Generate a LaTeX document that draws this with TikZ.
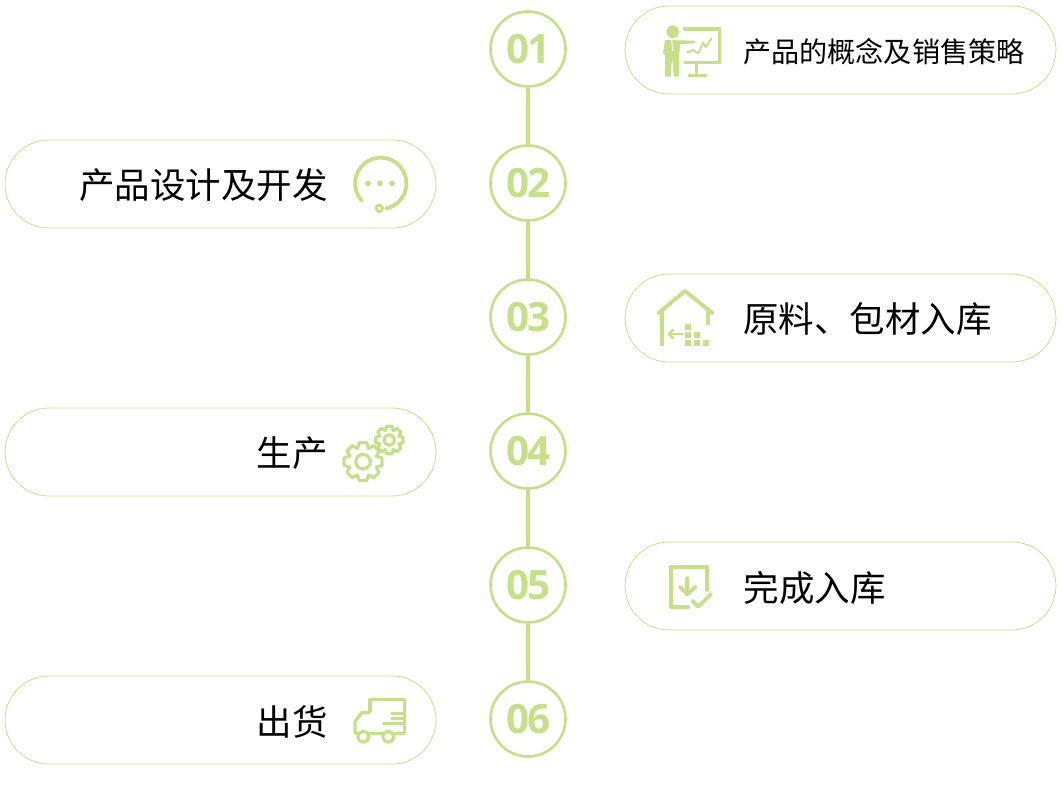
\documentclass[tikz,border=0pt]{standalone}
\usepackage{fontspec}
\setmainfont{Noto Sans CJK SC}
\newfontfamily\numfont[LetterSpace=-3]{Open Sans}
\definecolor{leaf}{HTML}{C5E088}
\tikzset{
	stepdot/.style={circle, draw=leaf, line width=1.5pt, fill=white, inner sep=0pt, minimum size=1.5cm, text=leaf, font=\numfont\fontsize{23}{23}\selectfont\bfseries},
	pill/.style={rectangle, draw=leaf, line width=0.45pt, rounded corners=0.88cm, inner sep=0pt, minimum width=8.62cm, minimum height=1.76cm},
	label/.style={inner sep=0pt, text=black, font=\fontsize{20.2}{24}\selectfont},
	iconline/.style={draw=leaf, line width=2.2pt, line cap=round, line join=round},
	iconfill/.style={fill=leaf, draw=none},
}
\newcommand{\gearicon}[4]{%
	\draw[iconline, line width=1.8pt] ([shift={(#1,#2)}]-22:#4)
		\foreach \a in {0,45,...,315} { -- ([shift={(#1,#2)}]\a-22:#4) -- ([shift={(#1,#2)}]\a-11:#3) -- ([shift={(#1,#2)}]\a+11:#3) -- ([shift={(#1,#2)}]\a+22:#4) } -- cycle;
}
\begin{document}
\begin{tikzpicture}[x=0.02cm, y=-0.02cm]
	\useasboundingbox (0,0) rectangle (1063,790);

	% Boxes
	\node[pill] (p01) at (840.5,50) {};
	\node[pill] (p02) at (220.5,184) {};
	\node[pill] (p03) at (840.5,318) {};
	\node[pill] (p04) at (220.5,452) {};
	\node[pill] (p05) at (840.5,586) {};
	\node[pill] (p06) at (220.5,720) {};

	% Numbered circles
	\node[stepdot] (c01) at (528,49) {\hspace{0.6pt}\raisebox{-0.5pt}{01}};
	\node[stepdot] (c02) at (528,183) {\hspace{0.6pt}\raisebox{-0.5pt}{02}};
	\node[stepdot] (c03) at (528,317) {\hspace{0.6pt}\raisebox{-0.5pt}{03}};
	\node[stepdot] (c04) at (528,451) {\hspace{0.6pt}\raisebox{-0.5pt}{04}};
	\node[stepdot] (c05) at (528,585) {\hspace{0.6pt}\raisebox{-0.5pt}{05}};
	\node[stepdot] (c06) at (528,719) {\hspace{0.6pt}\raisebox{-0.5pt}{06}};

	% Links
	\draw[leaf, line width=2.3pt] (c01) -- (c02);
	\draw[leaf, line width=2.3pt] (c02) -- (c03);
	\draw[leaf, line width=2.3pt] (c03) -- (c04);
	\draw[leaf, line width=2.3pt] (c04) -- (c05);
	\draw[leaf, line width=2.3pt] (c05) -- (c06);

	% Labels
	\node[label, anchor=west, font=\fontsize{16}{20}\selectfont] (t01) at (743,51.5) {产品的概念及销售策略};
	\node[label, anchor=east] (t02) at (328,185.5) {产品设计及开发};
	\node[label, anchor=west] (t03) at (743,319.5) {原料、包材入库};
	\node[label, anchor=east] (t04) at (328,453.5) {生产};
	\node[label, anchor=west] (t05) at (743.5,587.5) {完成入库};
	\node[label, anchor=east] (t06) at (328,721.5) {出货};

	% Icon 01
	\fill[iconfill] (672.7,31.7) circle (6.3);
	\fill[iconfill] (665,40) -- (695,40.7) -- (695,43.3) -- (680,44.3) -- (679,60) -- (679,76.7) -- (673.9,76.7) -- (672.2,58) -- (670.5,76.7) -- (665,76.7) -- (665,55) -- (663,53.3) -- cycle;
	\draw[white, line width=0.6pt] (671.5,40) -- (673,51);
	\draw[iconline, line width=1.8pt, line cap=butt, line join=miter] (683,29) -- (719.3,29) -- (719.3,62.7) -- (684.3,62.7);
	\draw[iconline, line width=1.8pt, line cap=butt] (696.7,62.7) -- (696.7,75);
	\draw[iconline, line width=1.8pt, line cap=butt] (687.7,75.7) -- (706.7,75.7);
	\draw[iconline, line width=1.1pt] (687.3,52.3) -- (693.3,50) -- (698.3,53.3) -- (703.3,42.3) -- (705.7,47.3) -- (711.7,38.3);

	% Icon 02
	\draw[iconline] (361.7,200.5) arc[start angle=138, end angle=438, radius=25.7];
	\draw[iconline, line width=1.7pt] (379.3,208.3) circle (3.2);
	\fill[iconfill] (368,183.3) circle (3);
	\fill[iconfill] (380,183.3) circle (3);
	\fill[iconfill] (392,183.3) circle (3);

	% Icon 03
	\draw[iconline] (658.3,313.3) -- (685,291) -- (712.7,313.3);
	\draw[iconline, line cap=butt] (662.3,310) -- (662.3,346);
	\draw[iconline, line cap=butt] (707.7,309.3) -- (707.7,325);
	\draw[iconline, line width=1.6pt] (683,334) -- (669,334);
	\draw[iconline, line width=1.6pt] (673,330) -- (669,334) -- (673,338);
	\foreach \px/\py in {688.3/326.7, 688.3/334.7, 697.3/334.7, 688.3/342.7, 697.3/342.7, 706.3/342.7} {
		\fill[iconfill] (\px-3,\py-3) rectangle (\px+3,\py+3);
	}

	% Icon 04
	\gearicon{363}{461.7}{19.3}{14.5}
	\draw[iconline, line width=1.8pt] (363,461.7) circle (7.3);
	\gearicon{389.3}{440}{14}{10.3}
	\draw[iconline, line width=1.8pt] (389.3,440) circle (5.3);

	% Icon 05
	\draw[iconline] (688.3,606.7) -- (670.7,606.7) -- (670.7,566.7) -- (706.7,566.7) -- (706.7,590);
	\draw[iconline] (687.3,578.3) -- (687.3,594.3);
	\draw[iconline] (680,586.7) -- (687.3,594.3) -- (695.7,586.7);
	\draw[iconline] (692.3,600.7) -- (698.3,606.7) -- (711,594);

	% Icon 06
	\draw[iconline, line width=1.8pt] (370,711.7) -- (370,699.3) -- (404.3,699.3) -- (404.3,733.3) -- (395,733.3);
	\draw[iconline, line width=1.8pt] (382.7,733.3) -- (369,733.3);
	\draw[iconline, line width=1.8pt] (369,712.7) -- (361.7,712.7) -- (355,721.7) -- (355,733.3) -- (357.7,733.3);
	\draw[iconline, line width=1.8pt] (363.3,736.7) circle (5.5);
	\draw[iconline, line width=1.8pt] (388.3,736.7) circle (5.5);
	\draw[iconline, line width=1.5pt] (391.7,713.3) -- (404.3,713.3);
	\draw[iconline, line width=1.5pt] (391.7,718.3) -- (404.3,718.3);
	\draw[iconline, line width=1.5pt] (383.3,723.3) -- (404.3,723.3);
\end{tikzpicture}
\end{document}
